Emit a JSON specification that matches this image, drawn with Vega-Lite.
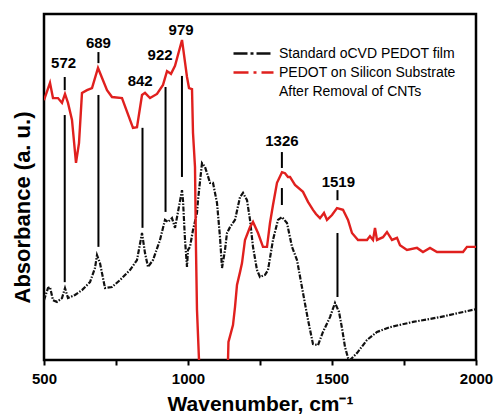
{
  "$schema": "https://vega.github.io/schema/vega-lite/v6.json",
  "autosize": "none",
  "width": 432,
  "height": 346,
  "padding": {"left": 44, "top": 14, "right": 20, "bottom": 55},
  "background": "white",
  "config": {
    "font": "Liberation Sans",
    "view": {"stroke": "black", "strokeWidth": 2.5},
    "axisY": {"labels": false, "ticks": false, "domain": false, "grid": false, "titleFontSize": 22, "titleFontWeight": "bold", "titleColor": "black", "titlePadding": 10, "titleY": 193, "titleFont": "Liberation Sans"},
    "axisX": {"domain": false, "grid": false, "tickColor": "black", "tickWidth": 2, "tickSize": 5, "labelFontSize": 15, "labelFontWeight": "bold", "labelColor": "black", "labelPadding": 6, "labelFont": "Liberation Sans", "titleFontSize": 21, "titleFontWeight": "bold", "titleColor": "black", "titlePadding": 7, "titleFont": "Liberation Sans", "labelFlush": false}
  },
  "datasets": {
    "spectra": [
      {"series": "Standard oCVD PEDOT film", "wn": 500, "a": 17.3},
      {"series": "Standard oCVD PEDOT film", "wn": 513.9, "a": 20.8},
      {"series": "Standard oCVD PEDOT film", "wn": 520.8, "a": 21.1},
      {"series": "Standard oCVD PEDOT film", "wn": 531.2, "a": 17.3},
      {"series": "Standard oCVD PEDOT film", "wn": 545.1, "a": 16.8},
      {"series": "Standard oCVD PEDOT film", "wn": 562.5, "a": 17.9},
      {"series": "Standard oCVD PEDOT film", "wn": 572.9, "a": 20.8},
      {"series": "Standard oCVD PEDOT film", "wn": 583.3, "a": 17.9},
      {"series": "Standard oCVD PEDOT film", "wn": 607.6, "a": 18.8},
      {"series": "Standard oCVD PEDOT film", "wn": 631.9, "a": 20.2},
      {"series": "Standard oCVD PEDOT film", "wn": 659.7, "a": 22.5},
      {"series": "Standard oCVD PEDOT film", "wn": 677.1, "a": 26.6},
      {"series": "Standard oCVD PEDOT film", "wn": 684.0, "a": 30.3},
      {"series": "Standard oCVD PEDOT film", "wn": 694.4, "a": 28.0},
      {"series": "Standard oCVD PEDOT film", "wn": 711.8, "a": 20.8},
      {"series": "Standard oCVD PEDOT film", "wn": 736.1, "a": 21.1},
      {"series": "Standard oCVD PEDOT film", "wn": 763.9, "a": 23.1},
      {"series": "Standard oCVD PEDOT film", "wn": 798.6, "a": 26.0},
      {"series": "Standard oCVD PEDOT film", "wn": 822.9, "a": 28.9},
      {"series": "Standard oCVD PEDOT film", "wn": 840.3, "a": 36.7},
      {"series": "Standard oCVD PEDOT film", "wn": 850.7, "a": 30.9},
      {"series": "Standard oCVD PEDOT film", "wn": 861.1, "a": 26.9},
      {"series": "Standard oCVD PEDOT film", "wn": 878.5, "a": 28.9},
      {"series": "Standard oCVD PEDOT film", "wn": 902.8, "a": 34.7},
      {"series": "Standard oCVD PEDOT film", "wn": 920.1, "a": 40.5},
      {"series": "Standard oCVD PEDOT film", "wn": 930.6, "a": 39.9},
      {"series": "Standard oCVD PEDOT film", "wn": 944.4, "a": 41.0},
      {"series": "Standard oCVD PEDOT film", "wn": 954.9, "a": 38.2},
      {"series": "Standard oCVD PEDOT film", "wn": 965.3, "a": 42.8},
      {"series": "Standard oCVD PEDOT film", "wn": 979.2, "a": 49.1},
      {"series": "Standard oCVD PEDOT film", "wn": 982.6, "a": 46.2},
      {"series": "Standard oCVD PEDOT film", "wn": 989.6, "a": 34.7},
      {"series": "Standard oCVD PEDOT film", "wn": 996.5, "a": 26.9},
      {"series": "Standard oCVD PEDOT film", "wn": 1000.0, "a": 31.8},
      {"series": "Standard oCVD PEDOT film", "wn": 1006.9, "a": 32.7},
      {"series": "Standard oCVD PEDOT film", "wn": 1017.4, "a": 37.6},
      {"series": "Standard oCVD PEDOT film", "wn": 1031.2, "a": 42.5},
      {"series": "Standard oCVD PEDOT film", "wn": 1034.7, "a": 46.2},
      {"series": "Standard oCVD PEDOT film", "wn": 1048.6, "a": 56.9},
      {"series": "Standard oCVD PEDOT film", "wn": 1059.0, "a": 55.8},
      {"series": "Standard oCVD PEDOT film", "wn": 1066.0, "a": 54.0},
      {"series": "Standard oCVD PEDOT film", "wn": 1076.4, "a": 51.2},
      {"series": "Standard oCVD PEDOT film", "wn": 1086.8, "a": 51.2},
      {"series": "Standard oCVD PEDOT film", "wn": 1100.7, "a": 45.4},
      {"series": "Standard oCVD PEDOT film", "wn": 1111.1, "a": 35.5},
      {"series": "Standard oCVD PEDOT film", "wn": 1118.1, "a": 26.6},
      {"series": "Standard oCVD PEDOT film", "wn": 1128.5, "a": 31.8},
      {"series": "Standard oCVD PEDOT film", "wn": 1135.4, "a": 36.7},
      {"series": "Standard oCVD PEDOT film", "wn": 1145.8, "a": 38.4},
      {"series": "Standard oCVD PEDOT film", "wn": 1163.2, "a": 40.5},
      {"series": "Standard oCVD PEDOT film", "wn": 1180.6, "a": 47.1},
      {"series": "Standard oCVD PEDOT film", "wn": 1191.0, "a": 48.3},
      {"series": "Standard oCVD PEDOT film", "wn": 1204.9, "a": 46.2},
      {"series": "Standard oCVD PEDOT film", "wn": 1215.3, "a": 40.5},
      {"series": "Standard oCVD PEDOT film", "wn": 1225.7, "a": 32.7},
      {"series": "Standard oCVD PEDOT film", "wn": 1239.6, "a": 26.0},
      {"series": "Standard oCVD PEDOT film", "wn": 1250.0, "a": 24.0},
      {"series": "Standard oCVD PEDOT film", "wn": 1267.4, "a": 24.6},
      {"series": "Standard oCVD PEDOT film", "wn": 1277.8, "a": 26.0},
      {"series": "Standard oCVD PEDOT film", "wn": 1295.1, "a": 34.7},
      {"series": "Standard oCVD PEDOT film", "wn": 1312.5, "a": 40.5},
      {"series": "Standard oCVD PEDOT film", "wn": 1326.4, "a": 41.3},
      {"series": "Standard oCVD PEDOT film", "wn": 1343.7, "a": 39.6},
      {"series": "Standard oCVD PEDOT film", "wn": 1361.1, "a": 32.7},
      {"series": "Standard oCVD PEDOT film", "wn": 1378.5, "a": 28.9},
      {"series": "Standard oCVD PEDOT film", "wn": 1399.3, "a": 19.4},
      {"series": "Standard oCVD PEDOT film", "wn": 1416.7, "a": 11.6},
      {"series": "Standard oCVD PEDOT film", "wn": 1434.0, "a": 4.6},
      {"series": "Standard oCVD PEDOT film", "wn": 1451.4, "a": 4.3},
      {"series": "Standard oCVD PEDOT film", "wn": 1468.7, "a": 8.1},
      {"series": "Standard oCVD PEDOT film", "wn": 1493.1, "a": 12.4},
      {"series": "Standard oCVD PEDOT film", "wn": 1510.4, "a": 16.5},
      {"series": "Standard oCVD PEDOT film", "wn": 1524.3, "a": 13.9},
      {"series": "Standard oCVD PEDOT film", "wn": 1534.7, "a": 9.2},
      {"series": "Standard oCVD PEDOT film", "wn": 1545.1, "a": 3.8},
      {"series": "Standard oCVD PEDOT film", "wn": 1555.6, "a": 0.6},
      {"series": "Standard oCVD PEDOT film", "wn": 1562.5, "a": 0.0},
      {"series": "Standard oCVD PEDOT film", "wn": 1586.8, "a": 2.0},
      {"series": "Standard oCVD PEDOT film", "wn": 1621.5, "a": 5.8},
      {"series": "Standard oCVD PEDOT film", "wn": 1656.2, "a": 8.1},
      {"series": "Standard oCVD PEDOT film", "wn": 1701.4, "a": 9.5},
      {"series": "Standard oCVD PEDOT film", "wn": 1781.2, "a": 11.0},
      {"series": "Standard oCVD PEDOT film", "wn": 1875.0, "a": 12.4},
      {"series": "Standard oCVD PEDOT film", "wn": 2000, "a": 14.7},
      {"series": "PEDOT on Silicon Substrate", "wn": 500, "a": 75.1},
      {"series": "PEDOT on Silicon Substrate", "wn": 520.8, "a": 80.1},
      {"series": "PEDOT on Silicon Substrate", "wn": 531.2, "a": 75.7},
      {"series": "PEDOT on Silicon Substrate", "wn": 548.6, "a": 75.7},
      {"series": "PEDOT on Silicon Substrate", "wn": 562.5, "a": 74.3},
      {"series": "PEDOT on Silicon Substrate", "wn": 572.9, "a": 76.9},
      {"series": "PEDOT on Silicon Substrate", "wn": 583.3, "a": 74.3},
      {"series": "PEDOT on Silicon Substrate", "wn": 597.2, "a": 69.4},
      {"series": "PEDOT on Silicon Substrate", "wn": 611.1, "a": 57.0},
      {"series": "PEDOT on Silicon Substrate", "wn": 621.5, "a": 62.7},
      {"series": "PEDOT on Silicon Substrate", "wn": 631.9, "a": 77.2},
      {"series": "PEDOT on Silicon Substrate", "wn": 649.3, "a": 78.0},
      {"series": "PEDOT on Silicon Substrate", "wn": 666.7, "a": 78.6},
      {"series": "PEDOT on Silicon Substrate", "wn": 687.5, "a": 84.4},
      {"series": "PEDOT on Silicon Substrate", "wn": 718.8, "a": 78.0},
      {"series": "PEDOT on Silicon Substrate", "wn": 736.1, "a": 76.0},
      {"series": "PEDOT on Silicon Substrate", "wn": 770.8, "a": 75.7},
      {"series": "PEDOT on Silicon Substrate", "wn": 809.0, "a": 67.1},
      {"series": "PEDOT on Silicon Substrate", "wn": 822.9, "a": 67.3},
      {"series": "PEDOT on Silicon Substrate", "wn": 840.3, "a": 76.6},
      {"series": "PEDOT on Silicon Substrate", "wn": 850.7, "a": 77.2},
      {"series": "PEDOT on Silicon Substrate", "wn": 868.1, "a": 75.7},
      {"series": "PEDOT on Silicon Substrate", "wn": 892.4, "a": 76.9},
      {"series": "PEDOT on Silicon Substrate", "wn": 913.2, "a": 79.5},
      {"series": "PEDOT on Silicon Substrate", "wn": 927.1, "a": 83.5},
      {"series": "PEDOT on Silicon Substrate", "wn": 940.9, "a": 82.7},
      {"series": "PEDOT on Silicon Substrate", "wn": 954.9, "a": 85.0},
      {"series": "PEDOT on Silicon Substrate", "wn": 979.2, "a": 92.5},
      {"series": "PEDOT on Silicon Substrate", "wn": 996.5, "a": 81.8},
      {"series": "PEDOT on Silicon Substrate", "wn": 1003.5, "a": 78.6},
      {"series": "PEDOT on Silicon Substrate", "wn": 1013.9, "a": 78.3},
      {"series": "PEDOT on Silicon Substrate", "wn": 1017.4, "a": 65.6},
      {"series": "PEDOT on Silicon Substrate", "wn": 1024.3, "a": 55.8},
      {"series": "PEDOT on Silicon Substrate", "wn": 1027.8, "a": 31.8},
      {"series": "PEDOT on Silicon Substrate", "wn": 1031.2, "a": 14.5},
      {"series": "PEDOT on Silicon Substrate", "wn": 1038.2, "a": 0.0},
      {"series": "PEDOT on Silicon Substrate", "wn": 1045.1, "a": -11.6},
      {"series": "PEDOT on Silicon Substrate", "wn": 1131.9, "a": -11.6},
      {"series": "PEDOT on Silicon Substrate", "wn": 1138.9, "a": 0.0},
      {"series": "PEDOT on Silicon Substrate", "wn": 1140.5, "a": 5.2},
      {"series": "PEDOT on Silicon Substrate", "wn": 1156.2, "a": 10.1},
      {"series": "PEDOT on Silicon Substrate", "wn": 1163.2, "a": 15.3},
      {"series": "PEDOT on Silicon Substrate", "wn": 1170.1, "a": 21.7},
      {"series": "PEDOT on Silicon Substrate", "wn": 1180.6, "a": 25.4},
      {"series": "PEDOT on Silicon Substrate", "wn": 1187.5, "a": 28.0},
      {"series": "PEDOT on Silicon Substrate", "wn": 1197.9, "a": 34.7},
      {"series": "PEDOT on Silicon Substrate", "wn": 1215.3, "a": 38.4},
      {"series": "PEDOT on Silicon Substrate", "wn": 1225.7, "a": 39.9},
      {"series": "PEDOT on Silicon Substrate", "wn": 1243.1, "a": 36.7},
      {"series": "PEDOT on Silicon Substrate", "wn": 1260.4, "a": 32.7},
      {"series": "PEDOT on Silicon Substrate", "wn": 1274.3, "a": 32.7},
      {"series": "PEDOT on Silicon Substrate", "wn": 1284.7, "a": 39.6},
      {"series": "PEDOT on Silicon Substrate", "wn": 1295.1, "a": 44.8},
      {"series": "PEDOT on Silicon Substrate", "wn": 1309.0, "a": 51.2},
      {"series": "PEDOT on Silicon Substrate", "wn": 1326.4, "a": 54.3},
      {"series": "PEDOT on Silicon Substrate", "wn": 1336.8, "a": 54.0},
      {"series": "PEDOT on Silicon Substrate", "wn": 1347.2, "a": 52.9},
      {"series": "PEDOT on Silicon Substrate", "wn": 1354.2, "a": 52.9},
      {"series": "PEDOT on Silicon Substrate", "wn": 1371.5, "a": 50.6},
      {"series": "PEDOT on Silicon Substrate", "wn": 1399.3, "a": 48.6},
      {"series": "PEDOT on Silicon Substrate", "wn": 1416.7, "a": 45.7},
      {"series": "PEDOT on Silicon Substrate", "wn": 1434.0, "a": 43.4},
      {"series": "PEDOT on Silicon Substrate", "wn": 1444.4, "a": 42.2},
      {"series": "PEDOT on Silicon Substrate", "wn": 1458.3, "a": 41.0},
      {"series": "PEDOT on Silicon Substrate", "wn": 1472.2, "a": 42.5},
      {"series": "PEDOT on Silicon Substrate", "wn": 1482.6, "a": 40.5},
      {"series": "PEDOT on Silicon Substrate", "wn": 1500.0, "a": 41.9},
      {"series": "PEDOT on Silicon Substrate", "wn": 1517.4, "a": 43.9},
      {"series": "PEDOT on Silicon Substrate", "wn": 1538.2, "a": 43.4},
      {"series": "PEDOT on Silicon Substrate", "wn": 1555.6, "a": 40.5},
      {"series": "PEDOT on Silicon Substrate", "wn": 1569.4, "a": 36.7},
      {"series": "PEDOT on Silicon Substrate", "wn": 1590.3, "a": 34.7},
      {"series": "PEDOT on Silicon Substrate", "wn": 1621.5, "a": 34.7},
      {"series": "PEDOT on Silicon Substrate", "wn": 1631.9, "a": 35.8},
      {"series": "PEDOT on Silicon Substrate", "wn": 1642.4, "a": 34.7},
      {"series": "PEDOT on Silicon Substrate", "wn": 1649.3, "a": 38.2},
      {"series": "PEDOT on Silicon Substrate", "wn": 1656.2, "a": 34.7},
      {"series": "PEDOT on Silicon Substrate", "wn": 1677.1, "a": 35.5},
      {"series": "PEDOT on Silicon Substrate", "wn": 1690.9, "a": 37.0},
      {"series": "PEDOT on Silicon Substrate", "wn": 1708.3, "a": 34.7},
      {"series": "PEDOT on Silicon Substrate", "wn": 1725.7, "a": 35.3},
      {"series": "PEDOT on Silicon Substrate", "wn": 1736.1, "a": 33.2},
      {"series": "PEDOT on Silicon Substrate", "wn": 1760.4, "a": 31.8},
      {"series": "PEDOT on Silicon Substrate", "wn": 1795.1, "a": 32.4},
      {"series": "PEDOT on Silicon Substrate", "wn": 1815.9, "a": 31.2},
      {"series": "PEDOT on Silicon Substrate", "wn": 1840.3, "a": 32.4},
      {"series": "PEDOT on Silicon Substrate", "wn": 1864.6, "a": 31.2},
      {"series": "PEDOT on Silicon Substrate", "wn": 1954.9, "a": 31.2},
      {"series": "PEDOT on Silicon Substrate", "wn": 1968.7, "a": 32.7},
      {"series": "PEDOT on Silicon Substrate", "wn": 2000, "a": 32.7}
    ],
    "peaks": [
      {"wn": 572, "top": 70.8, "bottom": 22.5},
      {"wn": 572, "top": 81.8, "bottom": 78.0},
      {"wn": 689, "top": 76.6, "bottom": 32.7},
      {"wn": 689, "top": 89.0, "bottom": 85.8},
      {"wn": 842, "top": 67.1, "bottom": 38.2},
      {"wn": 922, "top": 78.9, "bottom": 42.8},
      {"wn": 979, "top": 82.1, "bottom": 52.9},
      {"wn": 1326, "top": 60.1, "bottom": 55.5},
      {"wn": 1326, "top": 49.7, "bottom": 44.8},
      {"wn": 1519, "top": 49.1, "bottom": 46.2},
      {"wn": 1519, "top": 36.7, "bottom": 18.2}
    ],
    "labels": [
      {"label": "572", "wn": 568, "a": 85.8},
      {"label": "689", "wn": 689, "a": 91.6},
      {"label": "842", "wn": 834, "a": 80.6},
      {"label": "922", "wn": 903, "a": 88.2},
      {"label": "979", "wn": 976, "a": 95.4},
      {"label": "1326", "wn": 1326, "a": 63.3},
      {"label": "1519", "wn": 1522, "a": 51.4}
    ]
  },
  "layer": [
    {
      "data": {"name": "spectra"},
      "transform": [{"filter": "datum.series == 'Standard oCVD PEDOT film'"}],
      "mark": {"type": "line", "clip": true, "strokeWidth": 2.2, "strokeDash": [5, 1.5, 1.5, 1.5]},
      "encoding": {
        "x": {"field": "wn", "type": "quantitative", "scale": {"domain": [500, 2000], "nice": false, "zero": false}, "title": "Wavenumber, cm⁻¹", "axis": {"values": [500, 750, 1000, 1250, 1500, 1750, 2000], "labelExpr": "datum.value % 500 == 0 ? datum.label : ''", "format": "d"}},
        "y": {"field": "a", "type": "quantitative", "scale": {"domain": [0, 100], "nice": false, "zero": false}, "title": "Absorbance (a. u.)"},
        "color": {"field": "series", "type": "nominal", "sort": null, "scale": {"domain": ["Standard oCVD PEDOT film", "PEDOT on Silicon Substrate", "After Removal of CNTs"], "range": ["#111111", "#e0201e", "rgba(0,0,0,0)"]},
          "legend": {"title": null, "orient": "none", "legendX": 188, "legendY": 30, "padding": 0, "symbolType": "stroke", "symbolSize": 1600, "symbolStrokeWidth": 2.5, "labelFontSize": 14, "labelFont": "Liberation Sans", "labelColor": "black", "labelLimit": 0, "labelOffset": 4, "rowPadding": 0, "clipHeight": 19,
            "labelExpr": "datum.label == 'PEDOT on Silicon Substrate' ? ' PEDOT on Silicon Substrate' : datum.label",
            "encode": {"symbols": {"update": {"strokeDash": {"signal": "datum.value == 'Standard oCVD PEDOT film' ? [14, 3, 3, 3] : [15, 5, 3, 5]"}}}}}}
      }
    },
    {
      "data": {"name": "spectra"},
      "transform": [{"filter": "datum.series == 'PEDOT on Silicon Substrate'"}],
      "mark": {"type": "line", "clip": true, "strokeWidth": 2.4},
      "encoding": {
        "x": {"field": "wn", "type": "quantitative", "title": "Wavenumber, cm⁻¹"},
        "y": {"field": "a", "type": "quantitative", "title": "Absorbance (a. u.)"},
        "color": {"field": "series", "type": "nominal", "sort": null}
      }
    },
    {
      "data": {"name": "peaks"},
      "mark": {"type": "rule", "color": "black", "strokeWidth": 2},
      "encoding": {
        "x": {"field": "wn", "type": "quantitative", "title": "Wavenumber, cm⁻¹"},
        "y": {"field": "top", "type": "quantitative", "title": "Absorbance (a. u.)"},
        "y2": {"field": "bottom"}
      }
    },
    {
      "data": {"name": "labels"},
      "mark": {"type": "text", "font": "Liberation Sans", "fontSize": 15, "fontWeight": "bold", "color": "black", "baseline": "middle", "align": "center"},
      "encoding": {
        "x": {"field": "wn", "type": "quantitative", "title": "Wavenumber, cm⁻¹"},
        "y": {"field": "a", "type": "quantitative", "title": "Absorbance (a. u.)"},
        "text": {"field": "label"}
      }
    }
  ]
}
